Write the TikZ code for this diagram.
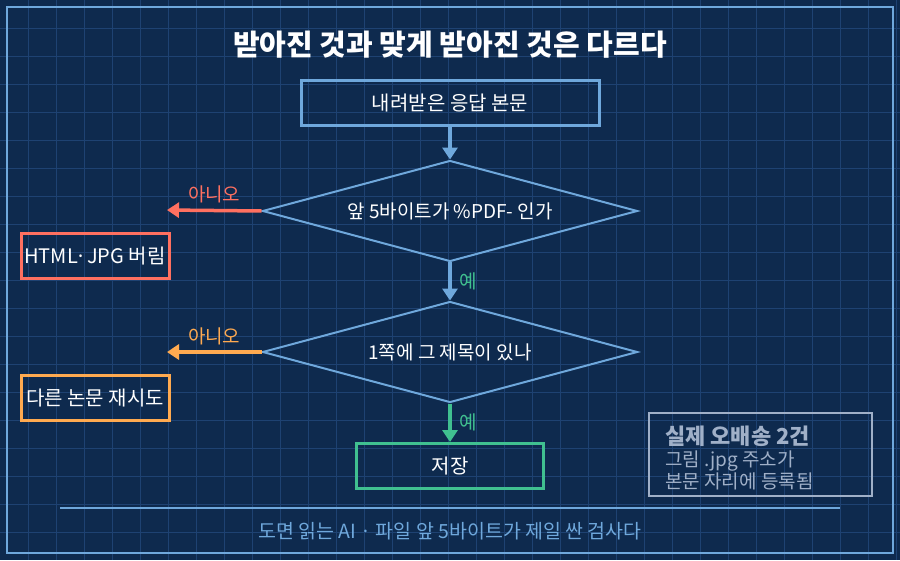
\documentclass[tikz,border=0pt]{standalone}
\usepackage{fontspec}
\setmainfont{Noto Sans CJK KR}
\usetikzlibrary{arrows.meta,shapes.geometric}
\definecolor{bg}{HTML}{0E2A4E}
\definecolor{gridc}{HTML}{1E4272}
\definecolor{edge}{HTML}{6FA8DC}
\definecolor{nored}{HTML}{FF7060}
\definecolor{noorange}{HTML}{FFAA50}
\definecolor{yesgreen}{HTML}{40C090}
\definecolor{notegray}{HTML}{A0B0C8}
\tikzset{
  box/.style={draw=#1,line width=3pt,minimum height=45pt,text=white,font=\fontsize{20}{24}\selectfont},
  test/.style={diamond,draw=edge,line width=2pt,aspect=3.7,inner sep=0pt,
    minimum width=375pt,minimum height=101pt,text=white,font=\fontsize{19}{23}\selectfont},
  flow/.style={line width=3.5pt,-{Triangle[length=12pt,width=15pt]}},
  tag/.style={font=\fontsize{19}{23}\selectfont}
}
\begin{document}
\begin{tikzpicture}[x=1pt,y=-1pt]
\fill[bg] (0,0) rectangle (900,560);
\useasboundingbox (0,0) rectangle (900,560);
% grid
\foreach \i in {28,56,...,896} \draw[gridc,line width=1pt] (\i,0) -- (\i,560);
\foreach \j in {28,56,...,556} \draw[gridc,line width=1pt] (0,\j) -- (900,\j);
\draw[edge,line width=2pt] (7,7) rectangle (893,553);
% title
\node[text=white,font=\fontsize{29}{34}\selectfont\bfseries] (title) at (450,45) {받아진 것과 맞게 받아진 것은 다르다};
% nodes
\node[box=edge,minimum width=298pt] (body) at (450,103) {내려받은 응답 본문};
\node[test] (pdf) at (450,211) {앞 5바이트가 \%PDF- 인가};
\node[test] (title1) at (450,352) {1쪽에 그 제목이 있나};
\node[box=nored,minimum width=148pt] (drop) at (95,256) {HTML·JPG 버림};
\node[box=noorange,minimum width=148pt] (retry) at (95,398) {다른 논문 재시도};
\node[box=yesgreen,minimum width=187pt] (save) at (450,466) {저장};
\coordinate (dropend) at (167,210);
\coordinate (retryend) at (167,352);
% connectors
\draw[flow,edge] (body) -- (pdf);
\draw[flow,edge] (pdf) -- node[right,tag,text=yesgreen,xshift=4pt] {예} (title1);
\draw[flow,yesgreen] (title1) -- node[right,tag,text=yesgreen,xshift=4pt] {예} (save);
\draw[flow,nored] (pdf.west) -- node[above,tag,text=nored,yshift=2pt] {아니오} (dropend);
\draw[flow,noorange] (title1.west) -- node[above,tag,text=noorange,yshift=2pt] {아니오} (retryend);
% note
\draw[notegray,line width=2pt] (649,413) rectangle (872,496);
\node[anchor=north west,text=notegray,align=left,inner sep=0pt,font=\fontsize{19}{20}\selectfont] (note) at (665,426)
  {\textbf{\fontsize{22}{24}\selectfont 실제 오배송 2건}\\[2pt]그림 .jpg 주소가\\본문 자리에 등록됨};
% footer
\draw[edge,line width=1.5pt] (60,508) -- (840,508);
\node[text=edge,font=\fontsize{19.5}{22}\selectfont] (foot) at (450,531) {도면 읽는 AI · 파일 앞 5바이트가 제일 싼 검사다};
\end{tikzpicture}
\end{document}
